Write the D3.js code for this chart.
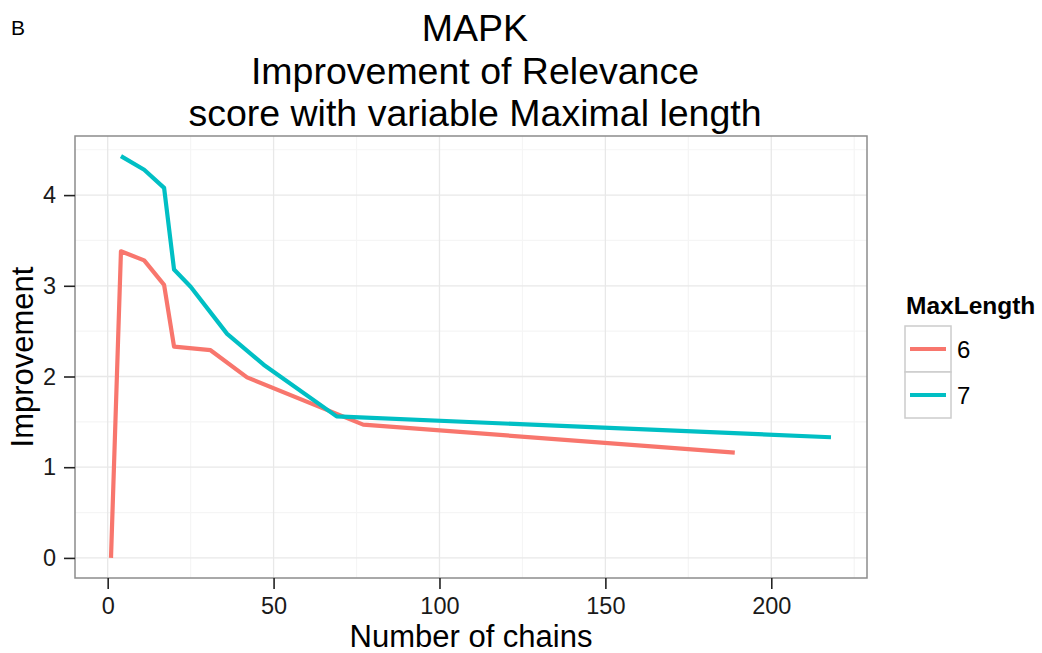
<!DOCTYPE html>
<html>
<head>
<meta charset="utf-8">
<script src="https://cdn.jsdelivr.net/npm/d3@7"></script>
<style>
  body { margin: 0; background: #fff; }
  text { font-family: "Liberation Sans", Arial, Helvetica, sans-serif; }
</style>
</head>
<body>
<svg id="chart" width="1042" height="653"></svg>
<script>
// Data
const titleLines = ["MAPK", "Improvement of Relevance", "score with variable Maximal length"];
const seriesNames = ["6", "7"];
const seriesColors = ["#F8766D", "#00BFC4"];

const chains6 = [1, 4, 11, 17, 20, 31, 42, 77, 189];
const improvement6 = [0, 3.38, 3.28, 3.01, 2.33, 2.29, 1.99, 1.47, 1.16];

const chains7 = [4, 11, 17, 20, 25, 36, 47, 69, 218];
const improvement7 = [4.43, 4.28, 4.08, 3.18, 2.99, 2.47, 2.13, 1.56, 1.33];

const xTicks = [0, 50, 100, 150, 200];
const xMinor = [25, 75, 125, 175, 225];
const yTicks = [0, 1, 2, 3, 4];
const yMinor = [0.5, 1.5, 2.5, 3.5, 4.5];

const series = [
    { name: seriesNames[0], color: seriesColors[0], points: chains6.map((x, i) => ({ x, y: improvement6[i] })) },
    { name: seriesNames[1], color: seriesColors[1], points: chains7.map((x, i) => ({ x, y: improvement7[i] })) },
];

const margin = { top: 136, right: 175, bottom: 75, left: 75 };
const width = 1042, height = 653;

const $svg = d3.select("#chart");

// ggplot-like 5% expansion
const allPts = series.flatMap(s => s.points);
const expand = ([a, b]) => { const d = (b - a) * 0.05; return [a - d, b + d]; };

const x = d3.scaleLinear()
    .domain(expand(d3.extent(allPts, d => d.x)))
    .range([margin.left, width - margin.right]);

const y = d3.scaleLinear()
    .domain(expand([0, d3.max(allPts, d => d.y)]))
    .range([height - margin.bottom, margin.top]);

const pLeft = margin.left, pRight = width - margin.right;
const pTop = margin.top, pBottom = height - margin.bottom;

// Panel background
$svg.append("rect")
    .attr("x", pLeft).attr("y", pTop)
    .attr("width", pRight - pLeft).attr("height", pBottom - pTop)
    .attr("fill", "#fff");

// Grid
const $grid = $svg.append("g");
$grid.selectAll(".vmin").data(xMinor.filter(d => x(d) < pRight)).join("line")
    .attr("x1", d => x(d)).attr("x2", d => x(d))
    .attr("y1", pTop).attr("y2", pBottom)
    .attr("stroke", "#f5f5f5").attr("stroke-width", 1.2);
$grid.selectAll(".hmin").data(yMinor.filter(d => y(d) > pTop)).join("line")
    .attr("y1", d => y(d)).attr("y2", d => y(d))
    .attr("x1", pLeft).attr("x2", pRight)
    .attr("stroke", "#f5f5f5").attr("stroke-width", 1.2);
$grid.selectAll(".vmaj").data(xTicks).join("line")
    .attr("x1", d => x(d)).attr("x2", d => x(d))
    .attr("y1", pTop).attr("y2", pBottom)
    .attr("stroke", "#e8e8e8").attr("stroke-width", 1.3);
$grid.selectAll(".hmaj").data(yTicks).join("line")
    .attr("y1", d => y(d)).attr("y2", d => y(d))
    .attr("x1", pLeft).attr("x2", pRight)
    .attr("stroke", "#e8e8e8").attr("stroke-width", 1.3);

// Lines
const line = d3.line().x(d => x(d.x)).y(d => y(d.y));
$svg.append("g").selectAll("path").data(series).join("path")
    .attr("d", d => line(d.points))
    .attr("fill", "none")
    .attr("stroke", d => d.color)
    .attr("stroke-width", 4.2)
    .attr("stroke-linejoin", "round");

// Panel border
$svg.append("rect")
    .attr("x", pLeft).attr("y", pTop)
    .attr("width", pRight - pLeft).attr("height", pBottom - pTop)
    .attr("fill", "none").attr("stroke", "#8c8c8c").attr("stroke-width", 1.5);

// Axes
const xAxis = d3.axisBottom(x).tickValues(xTicks).tickFormat(d3.format("d")).tickSize(11).tickPadding(8);
const yAxis = d3.axisLeft(y).tickValues(yTicks).tickFormat(d3.format("d")).tickSize(11).tickPadding(8);

const $xAxis = $svg.append("g").attr("transform", `translate(0,${pBottom})`).call(xAxis);
const $yAxis = $svg.append("g").attr("transform", `translate(${pLeft},0)`).call(yAxis);
[$xAxis, $yAxis].forEach($a => {
    $a.attr("font-size", null).attr("font-family", null);
    $a.select(".domain").remove();
    $a.selectAll(".tick line").attr("stroke", "#222").attr("stroke-width", 1.6);
    $a.selectAll(".tick text").attr("fill", "#1a1a1a").style("font-size", "23.5px");
});

// Axis titles
$svg.append("text")
    .attr("x", (pLeft + pRight) / 2).attr("y", 647)
    .attr("text-anchor", "middle").style("font-size", "31px")
    .text("Number of chains");

$svg.append("text")
    .attr("transform", `translate(33,${(pTop + pBottom) / 2}) rotate(-90)`)
    .attr("text-anchor", "middle").style("font-size", "31px")
    .text("Improvement");

// Title
$svg.append("g").selectAll("text").data(titleLines).join("text")
    .attr("x", 475)
    .attr("y", (d, i) => 41 + i * 42.5)
    .attr("text-anchor", "middle")
    .style("font-size", "37.5px")
    .text(d => d);

// Panel letter
$svg.append("text").attr("x", 11).attr("y", 35)
    .style("font-size", "21px").text("B");

// Legend
const $legend = $svg.append("g").attr("transform", "translate(905,0)");
$legend.append("text").attr("x", 1).attr("y", 314)
    .style("font-size", "24.5px").style("font-weight", "bold")
    .text("MaxLength");
const $keys = $legend.selectAll(".key").data(series).join("g")
    .attr("transform", (d, i) => `translate(0,${326 + i * 46})`);
$keys.append("rect")
    .attr("width", 46).attr("height", 46)
    .attr("fill", "#fff").attr("stroke", "#cccccc").attr("stroke-width", 1.5);
$keys.append("line")
    .attr("x1", 5).attr("x2", 41).attr("y1", 23).attr("y2", 23)
    .attr("stroke", d => d.color).attr("stroke-width", 4.2);
$keys.append("text")
    .attr("x", 52).attr("y", 23).attr("dy", "0.36em")
    .style("font-size", "24px")
    .text(d => d.name);
</script>
</body>
</html>
